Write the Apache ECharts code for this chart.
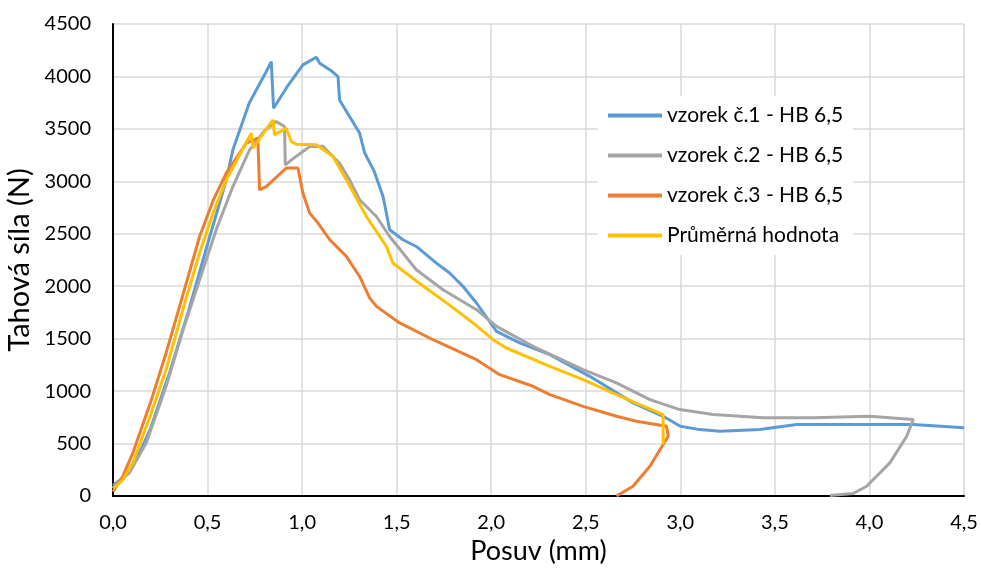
<!DOCTYPE html>
<html>
<head>
<meta charset="UTF-8">
<title>Tahová síla</title>
<script src="https://cdn.jsdelivr.net/npm/echarts@6/dist/echarts.min.js"></script>
<style>
  html, body { margin: 0; padding: 0; background: #fff; }
</style>
</head>
<body>
<div id="main" style="width: 981px;height:571px;"></div>
<script>
// data: [posuv (mm), síla (N)]
var vzorek1 = [[0,100],[0.05,170],[0.1,290],[0.15,450],[0.2,650],[0.3,1180],[0.4,1770],[0.5,2400],[0.6,3020],[0.634,3300],[0.72,3745],[0.81,4045],[0.837,4141],[0.849,3697],[0.92,3900],[1.004,4110],[1.075,4183],[1.093,4126],[1.15,4060],[1.19,3998],[1.198,3776],[1.25,3620],[1.304,3460],[1.331,3270],[1.38,3100],[1.428,2855],[1.463,2538],[1.533,2443],[1.604,2379],[1.71,2220],[1.78,2126],[1.85,2000],[1.922,1840],[2.028,1570],[2.15,1460],[2.31,1348],[2.521,1141],[2.75,888],[2.909,760],[3.0,665],[3.103,633],[3.21,617],[3.42,633],[3.615,681],[4.0,681],[4.232,681],[4.5,650]];
var vzorek2 = [[0,80],[0.087,222],[0.176,507],[0.281,1046],[0.37,1580],[0.458,2062],[0.55,2560],[0.634,2950],[0.722,3300],[0.8,3480],[0.863,3570],[0.907,3522],[0.911,3157],[0.97,3240],[1.04,3331],[1.11,3335],[1.198,3173],[1.251,3014],[1.304,2824],[1.393,2665],[1.463,2474],[1.604,2157],[1.745,1967],[1.922,1776],[2.028,1617],[2.221,1427],[2.486,1205],[2.662,1078],[2.839,919],[2.997,824],[3.174,776],[3.438,745],[3.703,745],[4.0,760],[4.232,729],[4.197,570],[4.108,316],[3.985,93],[3.914,24],[3.791,5]];
var vzorek3 = [[0,40],[0.05,180],[0.105,411],[0.2,900],[0.281,1364],[0.37,1920],[0.458,2474],[0.53,2820],[0.599,3078],[0.705,3364],[0.766,3411],[0.775,2919],[0.81,2950],[0.916,3126],[0.978,3126],[1.004,2888],[1.04,2697],[1.084,2602],[1.146,2443],[1.234,2284],[1.304,2093],[1.357,1888],[1.393,1808],[1.516,1650],[1.692,1490],[1.922,1300],[2.045,1157],[2.221,1046],[2.31,967],[2.486,855],[2.662,760],[2.768,712],[2.927,665],[2.936,570],[2.839,284],[2.75,93],[2.662,0]];
var prumer = [[0,70],[0.05,150],[0.105,316],[0.2,780],[0.281,1205],[0.37,1780],[0.458,2316],[0.53,2700],[0.599,3014],[0.731,3459],[0.74,3316],[0.846,3586],[0.854,3443],[0.916,3506],[0.943,3379],[0.969,3354],[1.075,3348],[1.163,3236],[1.234,3014],[1.34,2665],[1.446,2379],[1.48,2221],[1.604,2050],[1.78,1820],[1.904,1650],[2.01,1490],[2.08,1411],[2.31,1236],[2.486,1110],[2.662,967],[2.909,776],[2.909,490]];

var nazvy = ['vzorek č.1 - HB 6,5', 'vzorek č.2 - HB 6,5', 'vzorek č.3 - HB 6,5', 'Průměrná hodnota'];
var barvy = ['#5B9BD5', '#A5A5A5', '#ED7D31', '#FFC000'];
var data = [vzorek1, vzorek2, vzorek3, prumer];

var font = 'Lato, "Liberation Sans", sans-serif';
var myChart = echarts.init(document.getElementById('main'));

var series = [];
for (var i = 0; i < data.length; i++) {
    series.push({
        name: nazvy[i],
        type: 'line',
        data: data[i],
        showSymbol: false,
        symbol: 'none',
        lineStyle: { color: barvy[i], width: 3 },
        itemStyle: { color: barvy[i] }
    });
}

myChart.setOption({
    animation: false,
    grid: { left: 113, right: 17, top: 24, bottom: 75, containLabel: false, outerBoundsMode: 'none' },
    legend: {
        data: nazvy,
        orient: 'vertical',
        left: 598,
        top: 96,
        backgroundColor: '#fff',
        padding: [8, 10, 8, 10],
        itemWidth: 54,
        itemHeight: 4,
        itemGap: 17,
        icon: 'rect',
        textStyle: { fontFamily: font, fontSize: 21, color: '#000', lineHeight: 23 }
    },
    xAxis: {
        type: 'value',
        min: 0, max: 4.5, interval: 0.5,
        name: 'Posuv (mm)',
        nameLocation: 'middle',
        nameGap: 40,
        nameTextStyle: { fontFamily: font, fontSize: 27, color: '#000' },
        axisLine: { show: true, onZero: false, lineStyle: { color: '#000', width: 2 } },
        axisTick: { show: false },
        axisLabel: {
            fontFamily: font, fontSize: 20, color: '#000', margin: 17,
            formatter: function (v) { return v.toFixed(1).replace('.', ','); }
        },
        splitLine: { show: true, lineStyle: { color: '#d9d9d9', width: 1.5 } }
    },
    yAxis: {
        type: 'value',
        min: 0, max: 4500, interval: 500,
        name: 'Tahová síla (N)',
        nameLocation: 'middle',
        nameGap: 78,
        nameTextStyle: { fontFamily: font, fontSize: 29, color: '#000' },
        axisLine: { show: true, lineStyle: { color: '#000', width: 2 } },
        axisTick: { show: false },
        axisLabel: {
            fontFamily: font, fontSize: 20, color: '#000', margin: 22,
            formatter: function (v) { return String(v); }
        },
        splitLine: { show: true, lineStyle: { color: '#d9d9d9', width: 1.5 } }
    },
    series: series
});
</script>
</body>
</html>
